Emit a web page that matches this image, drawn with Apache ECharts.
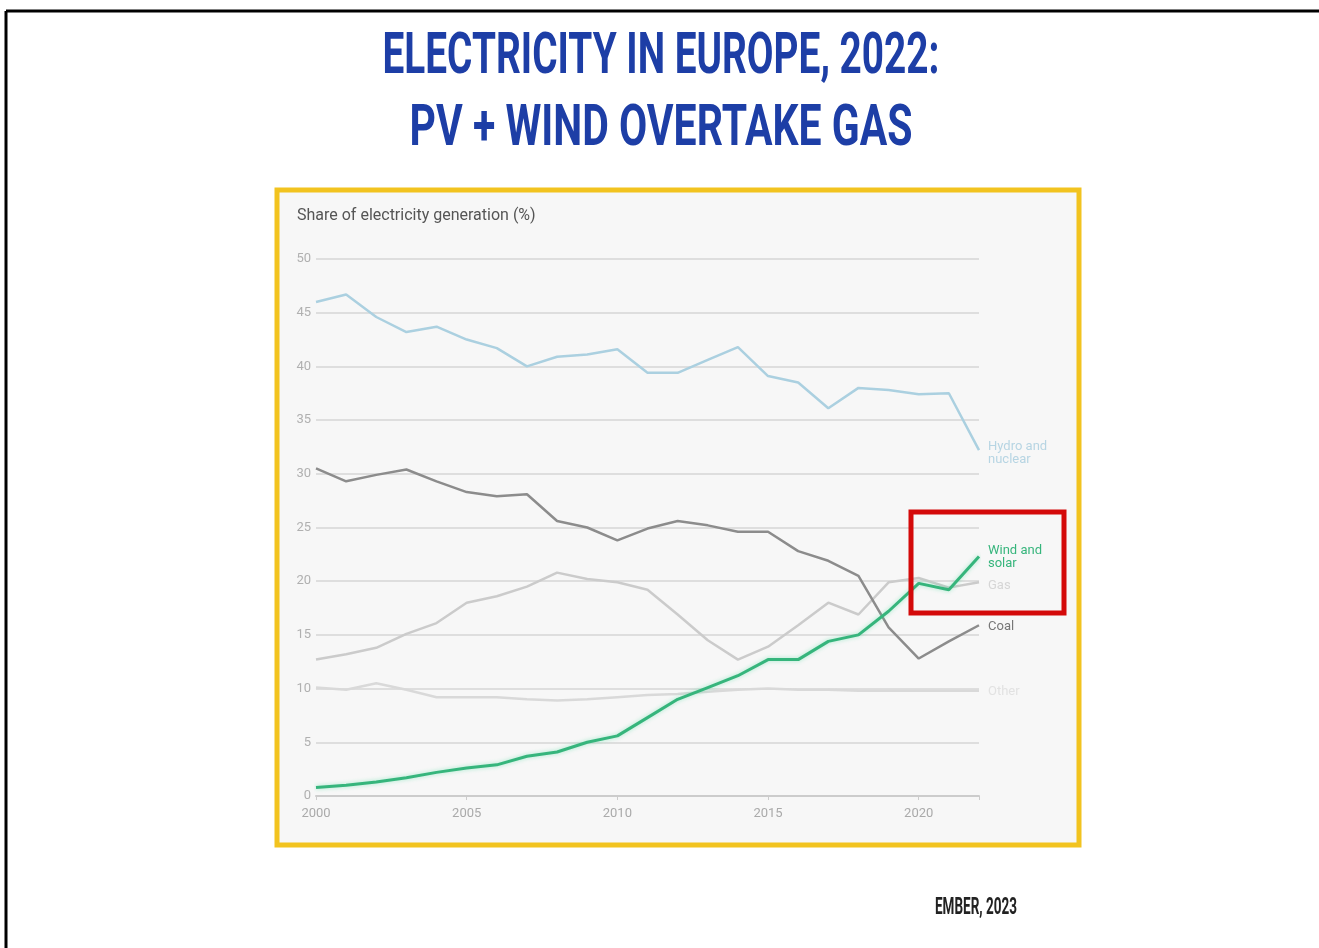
<!DOCTYPE html>
<html>
<head>
<meta charset="utf-8">
<title>Electricity in Europe, 2022</title>
<script src="https://cdn.jsdelivr.net/npm/echarts@6/dist/echarts.min.js"></script>
<style>
  html, body { margin: 0; padding: 0; background: #ffffff; }
  #chart { width: 1319px; height: 948px; }
</style>
</head>
<body>
<div id="chart"></div>
<script>
// Share of electricity generation in Europe (%), 2000–2022
const years = [2000, 2001, 2002, 2003, 2004, 2005, 2006, 2007, 2008, 2009, 2010,
               2011, 2012, 2013, 2014, 2015, 2016, 2017, 2018, 2019, 2020, 2021, 2022];

const hydroNuclear = [46.0, 46.7, 44.6, 43.2, 43.7, 42.5, 41.7, 40.0, 40.9, 41.1, 41.6,
                      39.4, 39.4, 40.6, 41.8, 39.1, 38.5, 36.1, 38.0, 37.8, 37.4, 37.5, 32.2];
const coal = [30.5, 29.3, 29.9, 30.4, 29.3, 28.3, 27.9, 28.1, 25.6, 25.0, 23.8,
              24.9, 25.6, 25.2, 24.6, 24.6, 22.8, 21.9, 20.5, 15.7, 12.8, 14.4, 15.9];
const gas = [12.7, 13.2, 13.8, 15.1, 16.1, 18.0, 18.6, 19.5, 20.8, 20.2, 19.9,
             19.2, 16.9, 14.5, 12.7, 13.9, 15.9, 18.0, 16.9, 19.9, 20.3, 19.4, 19.9];
const windSolar = [0.8, 1.0, 1.3, 1.7, 2.2, 2.6, 2.9, 3.7, 4.1, 5.0, 5.6,
                   7.3, 9.0, 10.1, 11.2, 12.7, 12.7, 14.4, 15.0, 17.2, 19.8, 19.2, 22.3];
const other = [10.1, 9.9, 10.5, 9.9, 9.2, 9.2, 9.2, 9.0, 8.9, 9.0, 9.2,
               9.4, 9.5, 9.7, 9.9, 10.0, 9.9, 9.9, 9.8, 9.8, 9.8, 9.8, 9.8];

const yTicks = [0, 5, 10, 15, 20, 25, 30, 35, 40, 45, 50];
const xTicks = [2000, 2005, 2010, 2015, 2020];

const titleLines = ['ELECTRICITY IN EUROPE, 2022:', 'PV + WIND OVERTAKE GAS'];
const sourceText = 'EMBER, 2023';

const pair = (vals) => years.map((y, i) => [y, vals[i]]);

// Condensed display type: measure the text and squeeze it horizontally to a set width.
const measureCtx = document.createElement('canvas').getContext('2d');
function squeezed(text, font, width, cx, cy, color, scaleY) {
  measureCtx.font = font;
  const w = measureCtx.measureText(text).width;
  return {
    type: 'text',
    x: cx,
    y: cy,
    scaleX: width / w,
    scaleY: scaleY || 1,
    z: 20,
    style: { text: text, font: font, fill: color, textAlign: 'center', textVerticalAlign: 'middle' }
  };
}

function lineSeries(name, label, vals, color, width, labelColor, labelDy, extra) {
  return Object.assign({
    name: name,
    type: 'line',
    data: pair(vals),
    symbol: 'none',
    silent: true,
    lineStyle: { color: color, width: width },
    endLabel: {
      show: true,
      formatter: label,
      color: labelColor,
      fontFamily: 'Roboto, "Noto Sans", sans-serif',
      fontSize: 13,
      lineHeight: 13,
      distance: 9,
      offset: [0, labelDy]
    }
  }, extra || {});
}

const titleFont = 'bold 54px Roboto, "Noto Sans", sans-serif';
const sourceFont = 'bold 24px Roboto, "Noto Sans", sans-serif';

const chart = echarts.init(document.getElementById('chart'), null, { renderer: 'canvas' });

chart.setOption({
  backgroundColor: '#ffffff',
  animation: false,
  title: [{
    text: 'Share of electricity generation (%)',
    left: 292,
    top: 203,
    textStyle: {
      fontFamily: 'Roboto, "Noto Sans", sans-serif',
      fontWeight: 'normal',
      fontSize: 16,
      color: '#555555'
    }
  }],
  graphic: [
    // page frame (top and left rules)
    { type: 'line', shape: { x1: 6, y1: 11, x2: 1319, y2: 11 }, style: { stroke: '#000', lineWidth: 3 }, z: 10 },
    { type: 'line', shape: { x1: 6, y1: 11, x2: 6, y2: 948 }, style: { stroke: '#000', lineWidth: 3 }, z: 10 },
    // headline
    squeezed(titleLines[0], titleFont, 557, 661, 59, '#1d3ea6', 1.05),
    squeezed(titleLines[1], titleFont, 503, 661, 131, '#1d3ea6', 1.05),
    // source note
    squeezed(sourceText, sourceFont, 82, 976, 908, '#222222', 1.0),
    // chart panel with yellow frame
    { type: 'rect', shape: { x: 277, y: 190, width: 802, height: 655 },
      style: { fill: '#f7f7f7', stroke: '#f2c31f', lineWidth: 5 }, z: -10 },
    // highlight box around the wind and solar crossover
    { type: 'rect', shape: { x: 911, y: 512, width: 153, height: 101 },
      style: { fill: 'none', stroke: '#d40a0a', lineWidth: 5 }, z: 10 }
  ],
  grid: { left: 316, right: 340, top: 259, bottom: 152, containLabel: false },
  xAxis: {
    type: 'value',
    min: 2000,
    max: 2022,
    interval: 5,
    axisLine: { show: true, lineStyle: { color: '#cccccc', width: 2 } },
    axisTick: { show: true, length: 4, lineStyle: { color: '#cccccc' } },
    splitLine: { show: false },
    axisLabel: {
      color: '#aaaaaa',
      fontFamily: 'Roboto, "Noto Sans", sans-serif',
      fontSize: 13,
      margin: 11,
      formatter: (v) => (xTicks.includes(v) ? String(v) : '')
    }
  },
  yAxis: {
    type: 'value',
    min: 0,
    max: 50,
    interval: 5,
    axisLine: { show: false },
    axisTick: { show: false },
    splitLine: { lineStyle: { color: '#dedede', width: 2 } },
    axisLabel: {
      color: '#b0b0b0',
      fontFamily: 'Roboto, "Noto Sans", sans-serif',
      fontSize: 13,
      margin: 5,
      formatter: (v) => (yTicks.includes(v) ? String(v) : '')
    }
  },
  series: [
    lineSeries('Other', 'Other', other, '#d9d9d9', 2.5, '#e2e2e2', 1),
    lineSeries('Gas', 'Gas', gas, '#cbcbcb', 2.5, '#d6d6d6', 3),
    lineSeries('Coal', 'Coal', coal, '#8c8c8c', 2.5, '#777777', 2),
    lineSeries('Hydro and nuclear', 'Hydro and\nnuclear', hydroNuclear, '#abd0e0', 2.5, '#b7d5e3', 3),
    lineSeries('Wind and solar', 'Wind and\nsolar', windSolar, '#36b57c', 3, '#36b57c', 1, {
      lineStyle: { color: '#36b57c', width: 3, shadowColor: 'rgba(60,220,150,0.45)', shadowBlur: 4 }
    })
  ]
});
</script>
</body>
</html>
